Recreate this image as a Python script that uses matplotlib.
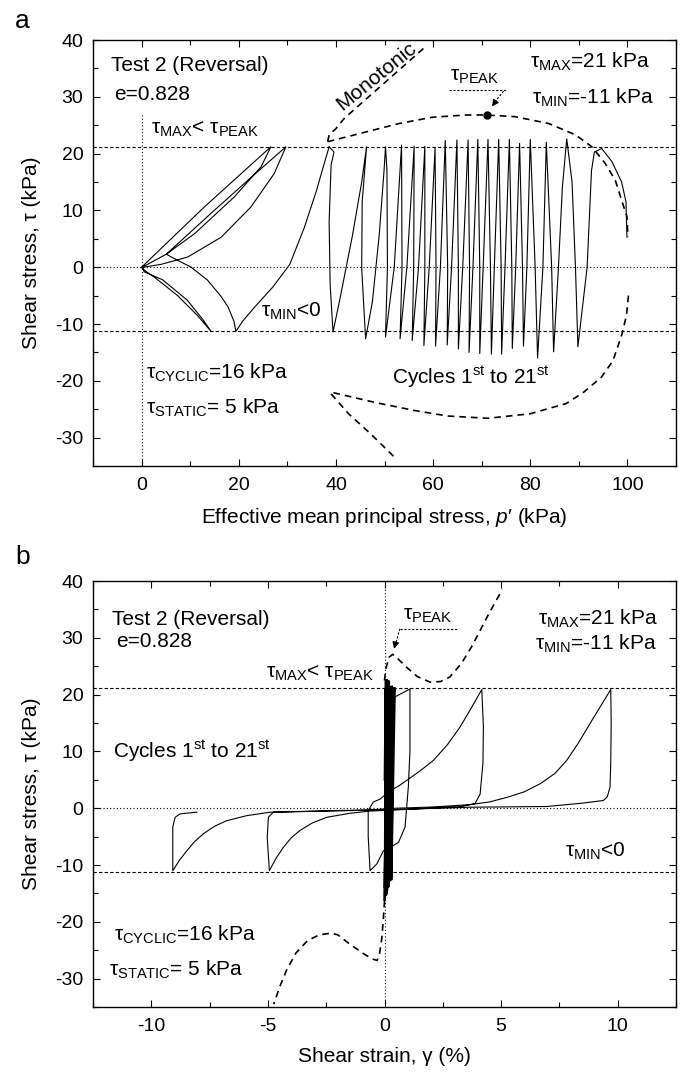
import numpy as np
import matplotlib.pyplot as plt
from matplotlib.ticker import MultipleLocator

plt.rcParams['font.family'] = ['Liberation Sans', 'DejaVu Sans']
plt.rcParams['mathtext.fontset'] = 'custom'
plt.rcParams['mathtext.rm'] = 'Liberation Sans'
plt.rcParams['mathtext.it'] = 'Liberation Sans:italic'
plt.rcParams['font.size'] = 15
plt.rcParams['axes.unicode_minus'] = False

# reference levels
tau_max = 21.2
tau_min = -11.3

# ---- panel a: stress path, cycles 1..19 (p', tau)
pa_cyc_p = [99.9, 99.7, 98.8, 96.8, 94.7, 93.2, 92.6, 91.7, 89.8,
            89.3, 88.6, 87.5, 86.6, 85.8, 84.8, 84.4, 83.3, 82.6, 81.5,
            81.0, 80.0, 79.3, 78.6, 78.4, 77.8, 77.0, 76.3, 76.2, 75.7,
            74.8, 74.1, 74.0, 73.5, 72.6, 72.0, 71.8, 71.3, 70.3, 69.6,
            69.6, 69.2, 68.2, 67.4, 67.5, 67.2, 66.1, 65.2, 65.2, 64.9,
            63.8, 62.9, 63.0, 62.5, 61.5, 60.5, 60.6, 60.4, 59.2, 58.1,
            58.3, 58.3, 57.0, 55.7, 56.0, 56.1, 54.6, 53.2, 53.6, 53.5,
            52.0, 50.2, 50.6, 50.5, 50.2, 49.9, 48.9, 47.5, 46.1,
            45.3, 45.4, 46.3, 45.3, 43.4, 40.7, 39.4,
            38.8, 38.6, 39.0, 39.6, 38.6]
pa_cyc_tau = [5.3, 11.5, 15.0, 18.6, 20.9, 20.3, 17.0, 0.0, -14.0,
              0.0, 15.0, 22.6, 14.0, 0.0, -14.9, 0.0, 22.0, 0.0, -16.0,
              0.0, 22.5, 0.0, -13.9, 0.0, 21.8, 0.0, -14.3, 0.0, 22.5,
              0.0, -15.3, 0.0, 22.5, 0.0, -15.3, 0.0, 22.5, 0.0, -15.2,
              0.0, 22.5, 0.0, -15.0, 0.0, 22.4, 0.0, -14.4, 0.0, 22.4,
              0.0, -13.7, 0.0, 22.3, 0.0, -13.9, 0.0, 21.0, 0.0, -13.8,
              0.0, 21.3, 0.0, -12.9, 0.0, 21.3, 0.0, -12.6, 0.0, 21.5,
              0.0, -12.3, 0.0, 17.0, 21.2, 17.0, 5.6, -6.1, -12.6,
              -0.2, 11.5, 21.2, 15.0, 5.6, -6.1, -11.4,
              -3.0, 8.0, 18.0, 20.3, 21.2]

# ---- panel a: last cycles near p'=0
pa_liq_p = [38.6, 37.5, 36.0, 33.5, 30.5, 27.0, 23.5, 20.8, 19.4,
            19.0, 17.8, 16.4, 13.6, 10.2, 6.1, 5.1,
            14.3, 22.0, 29.7, 27.3, 22.5, 16.4, 9.5, 4.0, 0.3,
            0.5, 4.3, 9.4, 12.6, 14.3, 11.5, 7.4, 3.0, 0.2, 0.0,
            12.9, 26.6, 24.6, 19.1, 10.9, 5.1, 1.0, 0.0]
pa_liq_tau = [21.2, 18.0, 13.5, 7.0, 0.5, -3.5, -6.8, -9.5, -11.3,
              -9.5, -7.0, -5.2, -2.3, 0.0, 1.8, 2.3,
              9.5, 15.4, 21.2, 16.5, 10.6, 5.3, 1.8, 0.5, 0.0,
              -0.8, -2.2, -5.8, -9.2, -11.3, -8.5, -5.0, -2.0, -0.3, 0.0,
              10.6, 21.2, 17.7, 12.4, 5.9, 2.3, 0.4, 0.0]

# ---- panel a: monotonic curves (dashed)
pa_mono1_p = [38.3, 38.6, 40.0, 41.7, 58.0]
pa_mono1_tau = [22.1, 23.3, 24.4, 26.2, 38.5]
pa_mono2_p = [38.3, 46.1, 53.0, 59.8, 66.7, 71.0, 76.9, 83.8, 89.3, 92.7,
              95.4, 97.5, 98.8, 99.9, 100.1]
pa_mono2_tau = [22.1, 23.8, 25.3, 26.4, 26.8, 26.8, 26.5, 25.3, 23.3, 21.2,
                18.3, 15.3, 11.8, 8.9, 5.3]
pa_mono3_p = [100.2, 99.8, 98.8, 97.0, 94.6, 91.0, 87.4, 80.0, 71.3, 63.0,
              56.0, 48.0, 42.0, 39.0]
pa_mono3_tau = [-5.0, -8.5, -12.0, -16.5, -19.4, -22.0, -24.0, -25.8, -26.6,
                -26.2, -25.2, -23.8, -22.6, -22.0]
pa_mono4_p = [39.0, 42.6, 47.1, 52.0]
pa_mono4_tau = [-22.3, -25.8, -29.3, -33.4]
pa_peak = (71.1, 26.8)

# ---- panel b: dense cycles 1..18 (gamma %, tau)
pb_dense_g = [0.00, 0.04, 0.01, 0.05, 0.00, 0.07, 0.02, 0.08, 0.03, 0.09,
              0.04, 0.10, 0.05, 0.12, 0.06, 0.13, 0.08, 0.15, 0.10, 0.16,
              0.12, 0.18, 0.14, 0.20, 0.16, 0.22, 0.18, 0.25, 0.21, 0.28,
              0.24, 0.32, 0.27, 0.38, 0.30, 0.45, 0.15]
pb_dense_tau = [5.0, 21.1, -14.0, 22.6, -16.3, 22.0, -16.0, 22.5, -13.9, 21.8,
                -14.3, 22.5, -15.3, 22.5, -15.3, 22.5, -15.2, 22.4, -15.0, 22.4,
                -14.4, 22.4, -13.7, 22.3, -13.9, 21.0, -13.8, 21.3, -12.9, 21.3,
                -12.6, 21.5, -12.3, 21.2, -12.6, 21.2, 0.0]

# ---- panel b: large strain cycles 19..21
pb_loop_g = [0.15, 0.20, 0.31, 0.45, 1.09,
             1.09, 1.02, 0.95, 0.88, 0.60, 0.20, -0.05, -0.33, -0.62,
             -0.70, -0.70, -0.48, -0.19, 0.24, 0.60, 0.95, 1.50, 2.09, 2.70,
             3.24, 3.70, 4.17,
             4.24, 4.22, 4.10, 3.88, 3.30, 1.00, -0.62, -1.50, -2.48, -3.10,
             -3.62, -4.00, -4.34, -4.65, -4.94,
             -5.03, -4.98, -4.77, -2.00, -0.62, 0.50, 1.95, 3.00, 3.67, 4.50,
             5.24, 6.00, 6.67, 7.30, 7.81, 8.30, 8.81, 9.30, 9.70,
             9.72, 9.70, 9.67, 9.55, 9.38, 8.50, 6.95, 3.67, 0.00, -4.91,
             -5.90, -6.77, -7.30, -7.77, -8.15, -8.48, -8.80, -9.08,
             -9.08, -8.98, -8.77, -8.05]
pb_loop_tau = [0.0, 10.0, 17.2, 19.6, 21.0,
               10.0, 3.7, 0.2, -3.3, -6.0, -7.0, -7.5, -9.8, -11.0,
               -5.0, -0.4, 1.1, 1.6, 3.1, 3.9, 4.9, 6.5, 8.4, 11.2,
               14.3, 17.5, 20.9,
               14.3, 8.0, 2.5, 0.8, 0.3, -0.2, -0.5, -0.9, -1.6, -2.6,
               -3.9, -5.2, -6.9, -8.8, -11.0,
               -5.1, -1.6, -0.7, -0.4, -0.3, 0.0, 0.2, 0.45, 0.65, 1.1,
               1.9, 2.9, 4.3, 6.1, 8.4, 11.4, 14.9, 18.2, 20.9,
               15.0, 8.0, 3.7, 2.0, 1.36, 0.9, 0.3, 0.18, -0.3, -0.7,
               -1.3, -2.2, -3.2, -4.5, -5.9, -7.5, -9.2, -11.0,
               -3.3, -1.6, -1.0, -0.7]

# ---- panel b: monotonic curves (dashed)
pb_mono1_g = [0.00, 0.05, 0.20, 0.35, 0.60, 0.95, 1.40, 1.95, 2.40, 2.80,
              3.30, 3.73, 4.10, 4.48, 5.05]
pb_mono1_tau = [22.5, 24.5, 26.6, 27.1, 26.2, 24.8, 23.2, 22.2, 22.3, 23.1,
                25.5, 28.4, 31.3, 34.3, 38.5]
pb_mono2_g = [0.00, -0.05, -0.12, -0.22, -0.32, -0.55, -0.90, -1.50, -2.00,
              -2.30, -2.80, -3.30, -3.80, -4.20, -4.50, -4.75]
pb_mono2_tau = [-16.3, -19.5, -23.0, -25.8, -26.8, -26.5, -25.6, -23.9, -22.3,
                -22.0, -22.3, -23.3, -25.5, -28.5, -31.5, -34.5]

fig = plt.figure(figsize=(6.81, 10.73), dpi=100)
ax1 = fig.add_axes([0.1366, 0.5657, 0.8561, 0.397])
ax2 = fig.add_axes([0.1366, 0.0615, 0.8561, 0.397])

dash_ref = dict(color='k', lw=0.8, dashes=(3, 2))
dot_ref = dict(color='k', lw=0.8, dashes=(1, 2))
mono = dict(color='k', lw=1.2, dashes=(4, 3))


def style(ax):
    ax.tick_params(which='both', direction='in', top=True, right=True, labelsize=14)
    ax.tick_params(which='major', length=5, width=0.8)
    ax.tick_params(which='minor', length=3.5, width=0.8)
    ax.tick_params(axis='y', pad=7)
    ax.tick_params(axis='x', pad=8)
    ax.set_ylim(-35, 40)
    ax.yaxis.set_major_locator(MultipleLocator(10))
    ax.yaxis.set_minor_locator(MultipleLocator(5))
    ax.set_ylabel('Shear stress, τ (kPa)', fontsize=15)
    ax.yaxis.set_label_coords(-0.09, 0.5)
    for s in ax.spines.values():
        s.set_linewidth(1.0)


# ---------------- panel a
ax = ax1
style(ax)
ax.set_xlim(-10, 110)
ax.xaxis.set_major_locator(MultipleLocator(20))
ax.xaxis.set_minor_locator(MultipleLocator(10))
ax.axhline(tau_max, **dash_ref)
ax.axhline(tau_min, **dash_ref)
ax.axhline(0, **dot_ref)
ax.vlines(0, -35, 27, colors='k', lw=0.8, linestyles=(0, (1, 2)))
ax.plot(pa_cyc_p, pa_cyc_tau, color='k', lw=0.8)
ax.plot(pa_liq_p, pa_liq_tau, color='k', lw=0.8)
ax.plot(pa_mono1_p, pa_mono1_tau, **mono)
ax.plot(pa_mono2_p, pa_mono2_tau, **mono)
ax.plot(pa_mono3_p, pa_mono3_tau, **mono)
ax.plot(pa_mono4_p, pa_mono4_tau, **mono)
ax.plot(*pa_peak, 'o', color='k', ms=5)
ax.plot([63.2, 74.9], [31.2, 31.2], color='k', lw=0.8, dashes=(2, 1.5))
ax.plot([74.5, 72.6], [31.0, 29.0], color='k', lw=0.8, dashes=(2, 1.5))
ax.annotate('', xy=(71.8, 27.9), xytext=(72.7, 29.0),
            arrowprops=dict(arrowstyle='-|>', color='k', lw=0.8, mutation_scale=10))
ax.text(-6.2, 35.6, 'Test 2 (Reversal)', va='center')
ax.text(-5.7, 30.4, 'e=0.828', va='center')
ax.text(2.0, 24.2, 'τ$_{\\rm MAX}$< τ$_{\\rm PEAK}$', va='center')
ax.text(104.7, 36.2, 'τ$_{\\rm MAX}$=21 kPa', ha='right', va='center')
ax.text(105.4, 29.9, 'τ$_{\\rm MIN}$=-11 kPa', ha='right', va='center')
ax.text(48.4, 33.6, 'Monotonic', rotation=39, ha='center', va='center')
ax.text(68.6, 33.6, 'τ$_{\\rm PEAK}$', ha='center', va='center')
ax.text(24.6, -7.8, 'τ$_{\\rm MIN}$<0', va='center')
ax.text(0.9, -18.6, 'τ$_{\\rm CYCLIC}$=16 kPa', va='center')
ax.text(0.9, -24.8, 'τ$_{\\rm STATIC}$= 5 kPa', va='center')
ax.text(51.5, -19.4, 'Cycles 1$^{\\rm st}$ to 21$^{\\rm st}$', va='center')
ax.set_xlabel('Effective mean principal stress, $p$\u2032 (kPa)', fontsize=15)
ax.xaxis.set_label_coords(0.5, -0.095)

# ---------------- panel b
ax = ax2
style(ax)
ax.set_xlim(-12.5, 12.5)
ax.xaxis.set_major_locator(MultipleLocator(5))
ax.xaxis.set_minor_locator(MultipleLocator(2.5))
ax.axhline(tau_max, **dash_ref)
ax.axhline(tau_min, **dash_ref)
ax.axhline(0, **dot_ref)
ax.axvline(0, **dot_ref)
ax.plot(pb_dense_g, pb_dense_tau, color='k', lw=1.3)
ax.plot(pb_loop_g, pb_loop_tau, color='k', lw=0.8)
ax.plot(pb_mono1_g, pb_mono1_tau, **mono)
ax.plot(pb_mono2_g, pb_mono2_tau, **mono)
ax.plot([0.66, 3.17], [31.6, 31.6], color='k', lw=0.8, dashes=(2, 1.5))
ax.plot([0.66, 0.48], [31.6, 29.0], color='k', lw=0.8, dashes=(2, 1.5))
ax.annotate('', xy=(0.38, 27.6), xytext=(0.48, 29.2),
            arrowprops=dict(arrowstyle='-|>', color='k', lw=0.8, mutation_scale=10))
ax.text(-11.7, 33.3, 'Test 2 (Reversal)', va='center')
ax.text(-11.5, 29.3, 'e=0.828', va='center')
ax.text(-0.45, 23.8, 'τ$_{\\rm MAX}$< τ$_{\\rm PEAK}$', ha='right', va='center')
ax.text(11.7, 33.3, 'τ$_{\\rm MAX}$=21 kPa', ha='right', va='center')
ax.text(11.7, 28.9, 'τ$_{\\rm MIN}$=-11 kPa', ha='right', va='center')
ax.text(1.86, 34.0, 'τ$_{\\rm PEAK}$', ha='center', va='center')
ax.text(-11.65, 10.1, 'Cycles 1$^{\\rm st}$ to 21$^{\\rm st}$', va='center')
ax.text(7.76, -7.6, 'τ$_{\\rm MIN}$<0', va='center')
ax.text(-11.6, -22.3, 'τ$_{\\rm CYCLIC}$=16 kPa', va='center')
ax.text(-11.8, -28.5, 'τ$_{\\rm STATIC}$= 5 kPa', va='center')
ax.set_xlabel('Shear strain, γ (%)', fontsize=15)
ax.xaxis.set_label_coords(0.5, -0.095)

fig.text(0.022, 0.980, 'a', fontsize=19, va='center')
fig.text(0.022, 0.481, 'b', fontsize=19, va='center')

fig.savefig('out.png', dpi=100)
